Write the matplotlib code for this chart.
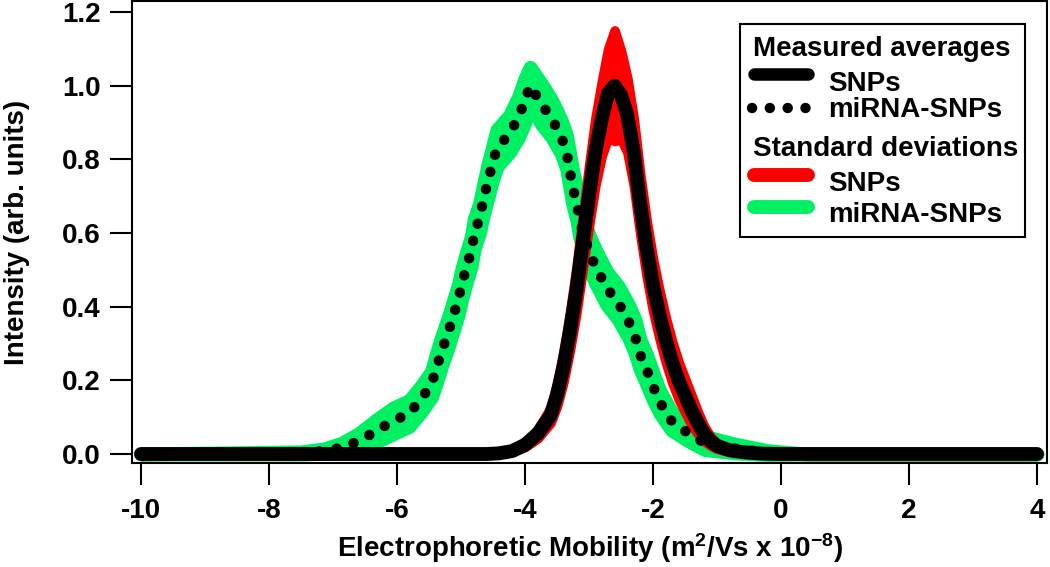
import numpy as np
import matplotlib.pyplot as plt
from matplotlib.patches import Rectangle
from matplotlib.lines import Line2D

plt.rcParams['font.family'] = ['Liberation Sans', 'DejaVu Sans']
plt.rcParams['font.weight'] = 'bold'
plt.rcParams['axes.labelweight'] = 'bold'
plt.rcParams['mathtext.fontset'] = 'custom'
plt.rcParams['mathtext.rm'] = 'Liberation Sans:bold'
plt.rcParams['mathtext.default'] = 'rm'

### data
# SNPs, measured average and standard deviation
snp_x = [-10, -4.6, -4.4, -4.2, -4.0, -3.8, -3.6, -3.5, -3.4, -3.3, -3.2, -3.1, -3.0,
         -2.9, -2.8, -2.7, -2.6, -2.5, -2.4, -2.3, -2.2, -2.1, -2.0, -1.9, -1.8, -1.7,
         -1.6, -1.5, -1.4, -1.3, -1.2, -1.1, -1.0, -0.8, -0.6, -0.3, 0.0, 4]
snp_y = [0, 0.0, 0.002, 0.008, 0.025, 0.055, 0.105, 0.16, 0.235, 0.33, 0.44, 0.57, 0.70,
         0.82, 0.91, 0.98, 1.0, 0.975, 0.92, 0.82, 0.68, 0.56, 0.46, 0.38, 0.31, 0.25,
         0.20, 0.16, 0.12, 0.085, 0.055, 0.035, 0.022, 0.01, 0.005, 0.001, 0, 0]
snp_sd = [0, 0, 0, 0.002, 0.006, 0.012, 0.02, 0.03, 0.04, 0.05, 0.06, 0.07, 0.08,
          0.09, 0.1, 0.12, 0.15, 0.12, 0.1, 0.09, 0.08, 0.075, 0.07, 0.065, 0.06, 0.055,
          0.05, 0.045, 0.04, 0.03, 0.02, 0.012, 0.008, 0.004, 0.002, 0, 0, 0]

# miRNA-SNPs, measured average and standard deviation
mir_x = [-10, -7.5, -7.14, -6.87, -6.6, -6.32, -6.06, -5.81, -5.62, -5.46, -5.38, -5.3,
         -5.2, -5.12, -5.04, -4.99, -4.91, -4.84, -4.79, -4.71, -4.65, -4.58, -4.52,
         -4.44, -4.24, -4.1, -4.0, -3.92, -3.74, -3.58, -3.43, -3.35, -3.3, -3.25, -3.19,
         -3.14, -3.0, -2.9, -2.72, -2.54, -2.38, -2.28, -2.2, -2.1, -1.99, -1.89, -1.71,
         -1.44, -1.19, -0.72, -0.2, 0.4, 4]
mir_y = [0, 0.003, 0.008, 0.017, 0.035, 0.063, 0.09, 0.11, 0.15, 0.19, 0.235, 0.28,
         0.33, 0.375, 0.42, 0.46, 0.51, 0.55, 0.60, 0.64, 0.69, 0.74, 0.78,
         0.83, 0.87, 0.915, 0.96, 1.0, 0.95, 0.91, 0.86, 0.82, 0.77, 0.72, 0.68,
         0.63, 0.55, 0.51, 0.45, 0.41, 0.36, 0.32, 0.27, 0.23, 0.18, 0.14, 0.09,
         0.055, 0.03, 0.015, 0.004, 0, 0]
mir_sd = [0, 0.003, 0.006, 0.012, 0.02, 0.03, 0.035, 0.035, 0.035, 0.035, 0.04, 0.04,
          0.04, 0.04, 0.04, 0.04, 0.04, 0.04, 0.04, 0.04, 0.04, 0.045, 0.045,
          0.05, 0.05, 0.055, 0.06, 0.05, 0.055, 0.05, 0.045, 0.045, 0.045, 0.045, 0.045,
          0.045, 0.045, 0.045, 0.045, 0.045, 0.045, 0.045, 0.04, 0.04, 0.035, 0.03, 0.025,
          0.02, 0.018, 0.012, 0.005, 0, 0]

x_ticks = [-10, -8, -6, -4, -2, 0, 2, 4]
y_ticks = [0.0, 0.2, 0.4, 0.6, 0.8, 1.0, 1.2]

red = '#ff0000'
green = '#00f064'

snp_x, snp_y, snp_sd = np.array(snp_x), np.array(snp_y), np.array(snp_sd)
mir_x, mir_y, mir_sd = np.array(mir_x), np.array(mir_y), np.array(mir_sd)

fig = plt.figure(figsize=(10.5, 5.67), dpi=100)
ax = fig.add_axes([0.1257, 0.1834, 0.8714, 0.8148])

## standard deviation bands
ax.fill_between(mir_x, mir_y - mir_sd, mir_y + mir_sd, facecolor=green, edgecolor=green,
                lw=10, joinstyle='round', zorder=1)
ax.fill_between(snp_x, snp_y - snp_sd, snp_y + snp_sd, facecolor=red, edgecolor=red,
                lw=7, joinstyle='round', zorder=2)

## averages
ax.plot(mir_x, mir_y, color='black', lw=7.5, ls=(0, (0.01, 1.7)),
        dash_capstyle='round', zorder=3)
ax.plot(snp_x, snp_y, color='black', lw=10, solid_capstyle='round',
        solid_joinstyle='round', zorder=4)

ax.set_xlim(-10.14, 4.156)
ax.set_ylim(-0.0244, 1.23)
ax.set_xticks(x_ticks)
ax.set_xticklabels(['%d' % v for v in x_ticks])
ax.set_yticks(y_ticks)
ax.set_yticklabels(['%.1f' % v for v in y_ticks])
ax.tick_params(direction='out', length=15.5, width=1.5, labelsize=20)
ax.tick_params(axis='x', pad=10)
ax.tick_params(axis='y', pad=7)
for s in ax.spines.values():
    s.set_linewidth(1.5)

ax.set_xlabel(r'Electrophoretic Mobility (m$^{2}$/Vs x 10$^{-8}$)', fontsize=20)
ax.set_ylabel('Intensity (arb. units)', fontsize=20)
ax.xaxis.set_label_coords(0.5, -0.148)
ax.yaxis.set_label_coords(-0.112, 0.5)

## legend, drawn by hand so the group headers sit flush left
tr = ax.transAxes
ax.add_patch(Rectangle((0.6645, 0.4892), 0.3115, 0.461, transform=tr, facecolor='white',
                       edgecolor='black', lw=1.5, zorder=10))
hx0, hx1, tx, head_x = 0.6798, 0.7388, 0.7607, 0.6787
fs = 20
ax.text(head_x, 0.882, 'Measured averages', transform=tr, fontsize=fs, va='baseline', zorder=11)
ax.add_line(Line2D([hx0, hx1], [0.842, 0.842], transform=tr, color='black', lw=9,
                   solid_capstyle='round', zorder=11))
ax.text(tx, 0.8063, 'SNPs', transform=tr, fontsize=fs, va='baseline', zorder=11)
ax.add_line(Line2D([0.6776, 0.7366], [0.768, 0.768], transform=tr, color='black', lw=7.5,
                   ls=(0, (0.01, 1.7)), dash_capstyle='round', zorder=11))
ax.text(tx, 0.7479, 'miRNA-SNPs', transform=tr, fontsize=fs, va='baseline', zorder=11)
ax.text(head_x, 0.6656, 'Standard deviations', transform=tr, fontsize=fs, va='baseline', zorder=11)
ax.add_line(Line2D([hx0, hx1], [0.6234, 0.6234], transform=tr, color=red, lw=10,
                   solid_capstyle='round', zorder=11))
ax.text(tx, 0.5898, 'SNPs', transform=tr, fontsize=fs, va='baseline', zorder=11)
ax.add_line(Line2D([hx0, hx1], [0.5541, 0.5541], transform=tr, color=green, lw=10,
                   solid_capstyle='round', zorder=11))
ax.text(tx, 0.5227, 'miRNA-SNPs', transform=tr, fontsize=fs, va='baseline', zorder=11)

fig.savefig('out.png', dpi=100)
